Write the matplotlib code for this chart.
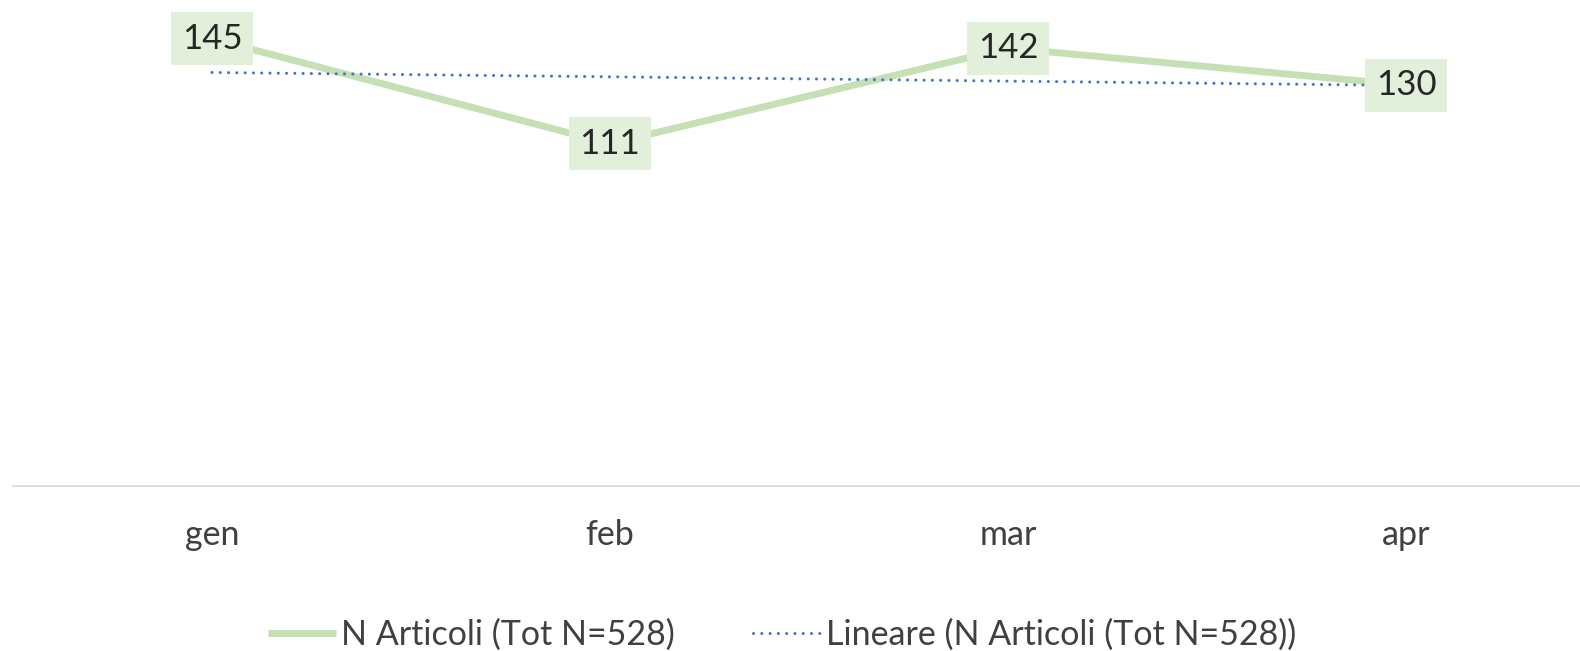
import matplotlib
matplotlib.use("Agg")
import matplotlib.pyplot as plt
import numpy as np

months = ["gen", "feb", "mar", "apr"]
articoli = [145, 111, 142, 130]
series_label = "N Articoli (Tot N=528)"
trend_label = "Lineare (N Articoli (Tot N=528))"

plt.rcParams['font.family'] = ['Lato', 'DejaVu Sans']

W, H = 1580, 651
fig = plt.figure(figsize=(W / 100, H / 100), dpi=100)
ax_left, ax_bottom = 13 / W, (H - 486) / H
ax = fig.add_axes([ax_left, ax_bottom, 1 - ax_left, 1 - ax_bottom])

x = np.arange(len(months))
xmax = -0.5 + (W - 13) / 398.0
ax.set_xlim(-0.5, xmax)
ax.set_ylim(0, 157.6)

green = "#C5E0B4"
blue = "#4472C4"

ax.plot(x, articoli, color=green, lw=5, solid_capstyle='butt', zorder=2,
        label=series_label)

coef = np.polyfit(x, articoli, 1)
trend = np.polyval(coef, x)
ax.plot(x, trend, color=blue, lw=2.2, linestyle=(0, (0.01, 2.7)),
        dash_capstyle='round', zorder=3, label=trend_label)

for xi, v in zip(x, articoli):
    ax.text(xi, v, str(v), ha='center', va='center', fontsize=25, color="#262626",
            zorder=4,
            bbox=dict(boxstyle='square,pad=0.3', facecolor="#E2EFDA", edgecolor='none'))

for s in ['top', 'right', 'left']:
    ax.spines[s].set_visible(False)
ax.spines['bottom'].set_color("#D9D9D9")
ax.spines['bottom'].set_linewidth(1.2)
ax.set_yticks([])
ax.set_xticks(x)
ax.set_xticklabels(months, fontsize=24.5, color="#404040")
ax.tick_params(axis='x', length=0, pad=24)

handles, labels = ax.get_legend_handles_labels()
leg = fig.legend(handles, labels, loc='center', bbox_to_anchor=(782 / W, 1 - 635 / H),
                 ncol=2, frameon=False, fontsize=24.5, handlelength=2.0,
                 handletextpad=0.15, columnspacing=2.3)
for t in leg.get_texts():
    t.set_color("#404040")

fig.savefig("out.png", dpi=100, facecolor='white')
